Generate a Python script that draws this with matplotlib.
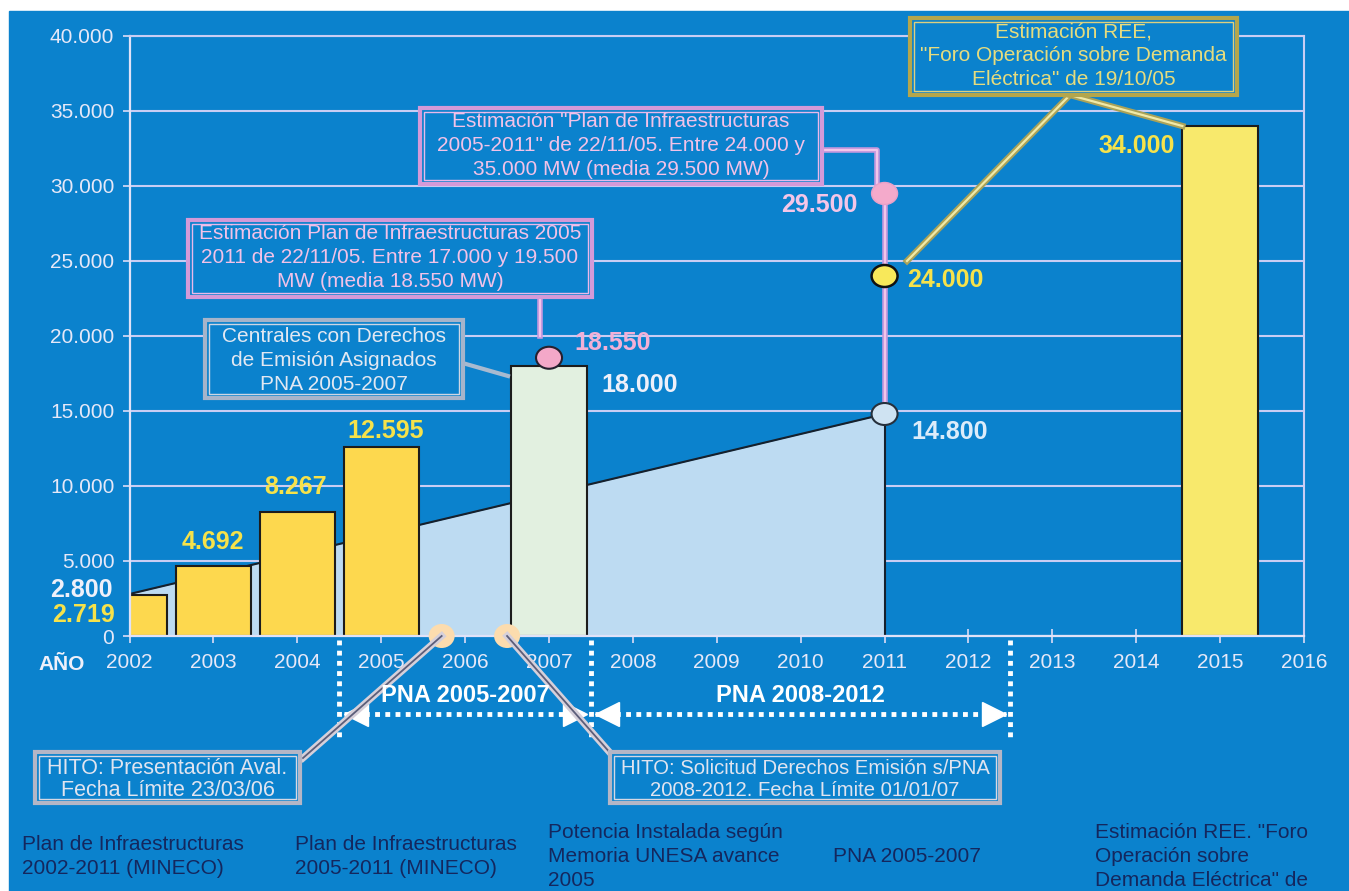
# -*- coding: utf-8 -*-
#
# Potencia instalada de ciclos combinados y estimaciones (MW)
#

import matplotlib.pyplot as plt
import matplotlib.patheffects as pe
from matplotlib.patches import Rectangle, Ellipse
from matplotlib.ticker import FuncFormatter

plt.rcParams['font.family'] = ['Liberation Sans', 'DejaVu Sans']

# Datos (MW)
anios_real = [2002, 2003, 2004, 2005]
potencia_real = [2719, 4692, 8267, 12595]
anio_pna = 2007
potencia_pna = 18000
anio_ree = 2015
potencia_ree = 34000

# Plan de Infraestructuras 2002-2011 (recta)
plan_anios = [2002, 2011]
plan_valores = [2800, 14800]

# Estimaciones puntuales
est_anios = [2007, 2011, 2011]
est_valores = [18550, 29500, 24000]

# Hitos (fecha en fracción de año): 23/03/06 y 01/01/07
hitos = [2006.22, 2007.0]

# Periodos PNA
pna_periodos = [(2005, 2007), (2008, 2012)]

anios_ticks = list(range(2002, 2017))
y_ticks = list(range(0, 40001, 5000))

W, H = 1349, 891
AZUL = '#0b82cd'
X0, X1 = 129.6, 1304.0
Y0, Y1 = 636.0, 36.0
SX = (X1 - X0) / 14.0
SY = (Y0 - Y1) / 40000.0


def px(x, y):
    # pixel de la figura -> coordenadas de datos
    return 2002 + (x - X0) / SX, (Y0 - y) / SY


def miles(v, pos=None):
    return '{:,}'.format(int(v)).replace(',', '.')


fig = plt.figure(figsize=(W / 100., H / 100.), dpi=100, facecolor='white')
fig.patches.append(Rectangle((9. / W, 0), 1, 1 - 11. / H, transform=fig.transFigure,
                             color=AZUL, zorder=-10))
ax = fig.add_axes([X0 / W, 1 - Y0 / H, (X1 - X0) / W, (Y0 - Y1) / H])
ax.set_facecolor('none')
ax.set_xlim(2002, 2016)
ax.set_ylim(0, 40000)

# Ejes y rejilla
ax.set_yticks(y_ticks)
ax.yaxis.set_major_formatter(FuncFormatter(miles))
ax.set_xticks(anios_ticks)
ax.grid(axis='y', color='#c9cdf4', lw=1.5)
ax.set_axisbelow(True)
for lado in ['left', 'bottom']:
    ax.spines[lado].set_color('#e0e2f8')
    ax.spines[lado].set_linewidth(1.6)
for lado in ['top', 'right']:
    ax.spines[lado].set_color('#c9cdf4')
    ax.spines[lado].set_linewidth(1.5)
ax.tick_params(axis='y', direction='out', length=5, width=1.2, color='#dcdcf6',
               labelcolor='#e6e8f8', labelsize=15, pad=6)
ax.tick_params(axis='x', direction='inout', length=10, width=1.2, color='#dcdcf6',
               labelcolor='#e6e8f8', labelsize=15, pad=7)
ax.text(*px(62, 664), 'AÑO', ha='center', va='center', color='#eef0fa',
        fontsize=15, fontweight='bold', clip_on=False)

# Plan de Infraestructuras 2002-2011: área azul claro
ax.fill_between(plan_anios, 0, plan_valores, color='#bddbf2', lw=0, zorder=1)
ax.plot(plan_anios, plan_valores, color='#16202c', lw=1.5, zorder=1.2)
ax.plot([plan_anios[1], plan_anios[1]], [0, plan_valores[1]], color='#16202c', lw=1.5, zorder=1.2)

# Barras
ax.bar(anios_real, potencia_real, width=0.9, color='#fdd84e', edgecolor='#1c1c1c', lw=1.5, zorder=2)
ax.bar(anio_pna, potencia_pna, width=0.9, color='#e2f0e0', edgecolor='#1c1c1c', lw=1.5, zorder=2)
ax.bar(anio_ree, potencia_ree, width=0.9, color='#f8e96c', edgecolor='#1c1c1c', lw=1.5, zorder=2)

# Líneas rosas de las estimaciones del Plan 2005-2011
rosa = [pe.Stroke(linewidth=4, foreground='#c79ade'), pe.Normal()]
ax.plot([est_anios[1], plan_anios[1]], [est_valores[1], plan_valores[1]],
        color='#f2c6ea', lw=1.5, zorder=3, path_effects=rosa)
ax.plot(*zip(px(822, 150), px(877, 150), px(877, 186)), color='#f2c6ea', lw=1.5,
        zorder=3, path_effects=rosa, clip_on=False)
ax.plot(*zip(px(540, 297), px(540, 336)), color='#f2c6ea', lw=1.5,
        zorder=3, path_effects=rosa, clip_on=False)

# Círculos
ew, eh = 26 / SX, 22 / SY
ax.add_patch(Ellipse((est_anios[0], est_valores[0]), ew, eh, fc='#f4a8c8', ec='#26202e', lw=1.5, zorder=4))
ax.add_patch(Ellipse((est_anios[1], est_valores[1]), ew, eh, fc='#f4aacb', ec='#e8a0c8', lw=1, zorder=4))
ax.add_patch(Ellipse((est_anios[2], est_valores[2]), ew, eh, fc='#f8e85a', ec='#111111', lw=1.8, zorder=4))
ax.add_patch(Ellipse((plan_anios[1], plan_valores[1]), ew, eh, fc='#cfe3f2', ec='#26303c', lw=1.5, zorder=4))
for h in hitos:
    # la barra de cada año va de año-0.5 a año+0.5
    ax.add_patch(Ellipse((h - 0.5, 0), ew, 24 / SY, fc='#fcdcae', ec='none', zorder=4, clip_on=False))

# Etiquetas de valores
AMARILLO = '#f6e24a'
ROSA = '#f3b0d6'
BLANCO = '#eef0fa'
etiquetas = [
    (2002, potencia_real[0], -46, -20, AMARILLO),
    (plan_anios[0], plan_valores[0], -48, 4, BLANCO),
    (2003, potencia_real[1], -1, 24, AMARILLO),
    (2004, potencia_real[2], -2, 25, AMARILLO),
    (2005, potencia_real[3], 4, 16, AMARILLO),
    (est_anios[0], est_valores[0], 64, 15, ROSA),
    (anio_pna, potencia_pna, 91, -19, BLANCO),
    (plan_anios[1], plan_valores[1], 65, -18, '#dcecfa'),
    (est_anios[2], est_valores[2], 61, -4, AMARILLO),
    (est_anios[1], est_valores[1], -65, -12, '#f4c6e8'),
    (anio_ree, potencia_ree, -83, -20, AMARILLO),
]
for x, v, dx, dy, c in etiquetas:
    ax.annotate(miles(v), xy=(x, v), xytext=(dx, dy), textcoords='offset pixels',
                ha='center', va='center', color=c, fontsize=18, fontweight='bold',
                zorder=6, annotation_clip=False)

# Periodos PNA: líneas de puntos y flechas
punteado = dict(color='white', lw=3.5, ls=(0, (1, 1.1)), clip_on=False, zorder=3)
for xv in [pna_periodos[0][0] - 0.5, pna_periodos[1][0] - 0.5, pna_periodos[1][1] + 0.5]:
    ax.plot([xv, xv], [px(0, 640)[1], px(0, 738)[1]], **punteado)
yf = px(0, 714)[1]
off = 12 / SX
for a, b in pna_periodos:
    xa, xb = a - 0.5 + 0.05, b + 0.5 - 0.05
    ax.plot([xa, xb], [yf, yf], **punteado)
    ax.plot(xa + off, yf, marker='<', ms=17, color='white', mec='white', clip_on=False, zorder=3)
    ax.plot(xb - off, yf, marker='>', ms=17, color='white', mec='white', clip_on=False, zorder=3)
    ax.text((a + b) / 2.0, px(0, 695)[1], 'PNA %d-%d' % (a, b), ha='center', va='center',
            color='white', fontsize=17, fontweight='bold', zorder=6, clip_on=False)

# Cajas de texto


def caja(x0, y0, x1, y1, lineas, y_lineas, c_txt, c_borde, c_int, size=15):
    a, b = px(x0, y1)
    c, d = px(x1, y0)
    ax.add_patch(Rectangle((a, b), c - a, d - b, fc=AZUL, ec=c_borde, lw=3,
                           zorder=5, clip_on=False))
    a, b = px(x0 + 4, y1 - 4)
    c, d = px(x1 - 4, y0 + 4)
    ax.add_patch(Rectangle((a, b), c - a, d - b, fc='none', ec=c_int, lw=1,
                           zorder=5, clip_on=False))
    for t, yy in zip(lineas, y_lineas):
        ax.text(*px((x0 + x1) / 2.0, yy), t, ha='center', va='center', color=c_txt,
                fontsize=size, zorder=6, clip_on=False)


caja(35, 752, 300, 803, ['HITO: Presentación Aval.', 'Fecha Límite 23/03/06'], [768, 791],
     '#e0e4f0', '#b4b6c6', '#d6d8e4', size=15.5)
caja(610, 752, 1000, 803, ['HITO: Solicitud Derechos Emisión s/PNA', '2008-2012. Fecha Límite 01/01/07'],
     [768, 791], '#e0e4f0', '#b4b6c6', '#d6d8e4', size=14.6)
caja(205, 320, 463, 398, ['Centrales con Derechos', 'de Emisión Asignados', 'PNA 2005-2007'],
     [337, 361, 385], '#e2e8f2', '#a6b4ca', '#cdd6e4')
caja(188, 220, 592, 297, ['Estimación Plan de Infraestructuras 2005',
                          '2011 de 22/11/05. Entre 17.000 y 19.500', 'MW (media 18.550 MW)'],
     [234, 258, 282], '#f2c2e8', '#d49ad8', '#eab8ea')
caja(420, 108, 822, 184, ['Estimación "Plan de Infraestructuras',
                          '2005-2011" de 22/11/05. Entre 24.000 y', '35.000 MW (media 29.500 MW)'],
     [122, 146, 170], '#f2c2e8', '#d49ad8', '#eab8ea')
caja(910, 18, 1237, 95, ['Estimación REE,', '"Foro Operación sobre Demanda', 'Eléctrica" de 19/10/05'],
     [32, 56, 80], '#e6dc7e', '#b4a64c', '#ddd080')

# Conectores de las cajas
gris = [pe.Stroke(linewidth=5, foreground='#d6d0da'), pe.Normal()]
ax.plot([hitos[0] - 0.5, px(303, 758)[0]], [0, px(303, 758)[1]], color='#5c5e7a', lw=1.3,
        path_effects=gris, clip_on=False, zorder=4.5)
ax.plot([hitos[1] - 0.5, px(612, 755)[0]], [0, px(612, 755)[1]], color='#5c5e7a', lw=1.3,
        path_effects=gris, clip_on=False, zorder=4.5)
oliva = [pe.Stroke(linewidth=4.5, foreground='#aaa258'), pe.Normal()]
x_ree, y_ree = px(1070, 95)
ax.plot([x_ree, px(907, 261)[0]], [y_ree, px(907, 261)[1]], color='#f0eaa8', lw=1.6,
        path_effects=oliva, clip_on=False, zorder=4.5)
ax.plot([x_ree, anio_ree - 0.45], [y_ree, potencia_ree], color='#f0eaa8', lw=1.6,
        path_effects=oliva, clip_on=False, zorder=4.5)
ax.plot(*zip(px(466, 364), px(508, 376)), color='#a8bad0', lw=3, clip_on=False, zorder=4.5)

# Leyenda inferior
NAVY = '#14275e'
notas = [
    (22, [845, 868], ['Plan de Infraestructuras', '2002-2011 (MINECO)']),
    (295, [845, 868], ['Plan de Infraestructuras', '2005-2011 (MINECO)']),
    (548, [832, 856, 880], ['Potencia Instalada según', 'Memoria UNESA avance', '2005']),
    (833, [856], ['PNA 2005-2007']),
    (1095, [832, 856, 880], ['Estimación REE. "Foro', 'Operación sobre', 'Demanda Eléctrica" de']),
]
for x, ys, lineas in notas:
    for t, yy in zip(lineas, ys):
        ax.text(*px(x, yy), t, ha='left', va='center', color=NAVY, fontsize=15, clip_on=False)

fig.savefig('out.png', dpi=100, facecolor=fig.get_facecolor())
